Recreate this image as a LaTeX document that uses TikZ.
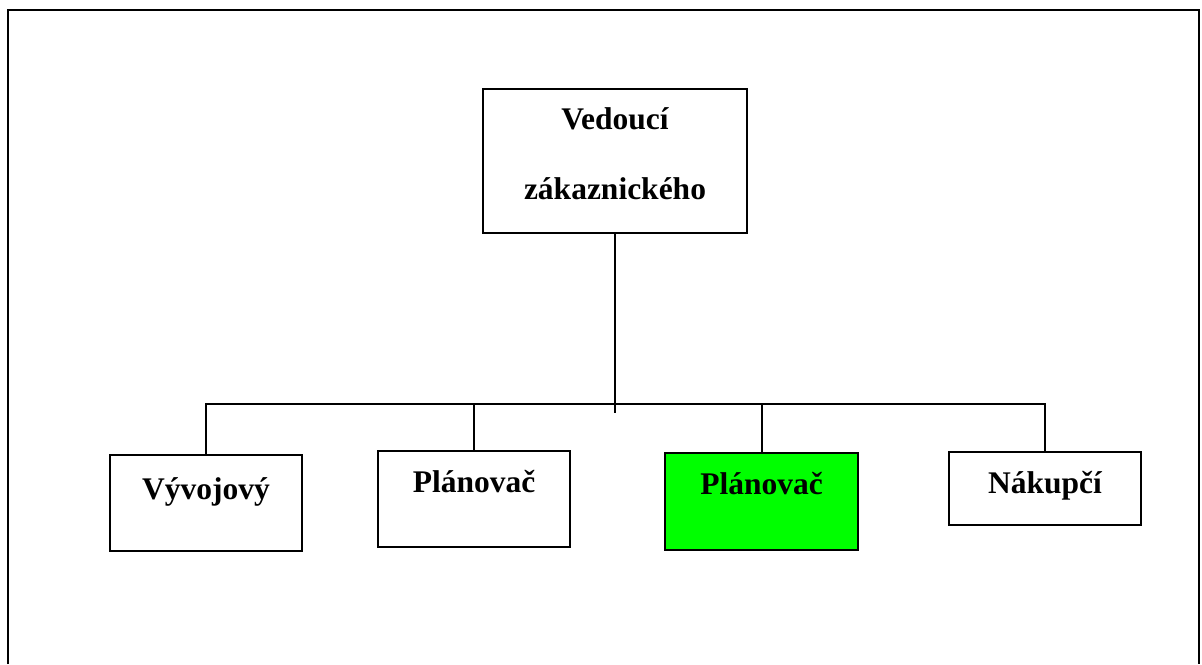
\documentclass[tikz,border=0pt]{standalone}
\usepackage{fontspec}
\setmainfont{Liberation Serif}
\definecolor{planfill}{RGB}{0,255,0}
\begin{document}
\begin{tikzpicture}
  [x=1pt,y=-1pt,line width=2pt,
   box/.style={draw,rectangle,inner sep=0pt,minimum width=192pt,minimum height=96pt},
   lbl/.style={anchor=base,inner sep=0pt,font=\bfseries\fontsize{31.5}{38}\selectfont}]
  \useasboundingbox (0,0) rectangle (1202,664);
  % outer frame, open at the bottom
  \draw (8,664) -- (8,10) -- (1199,10) -- (1199,664);

  \node[box,minimum width=264pt,minimum height=144pt] (ved) at (615,161) {};
  \node[box] (vyv) at (206,503) {};
  \node[box] (pl1) at (474,499) {};
  \node[box,fill=planfill,minimum width=193pt,minimum height=97pt] (pl2) at (761.5,501.5) {};
  \node[box,minimum height=73pt] (nak) at (1045,488.5) {};

  \node[lbl] (vedA) at ([yshift=-41pt]ved.north) {Vedoucí};
  \node[lbl] (vedB) at ([yshift=-111pt]ved.north) {zákaznického};
  \node[lbl] (vyvT) at ([yshift=-45pt]vyv.north) {Vývojový};
  \node[lbl] (pl1T) at ([yshift=-42pt]pl1.north) {Plánovač};
  \node[lbl] (pl2T) at ([yshift=-42pt]pl2.north) {Plánovač};
  \node[lbl] (nakT) at ([yshift=-42pt]nak.north) {Nákupčí};

  \coordinate (j) at (615,404);
  \coordinate (tail) at (615,413);

  \draw (ved.south) -- (tail);
  \draw (vyv.north) |- (j) -| (nak.north);
  \foreach \n in {pl1,pl2}
    \draw (\n.north) -- (\n.north |- j);
\end{tikzpicture}
\end{document}
